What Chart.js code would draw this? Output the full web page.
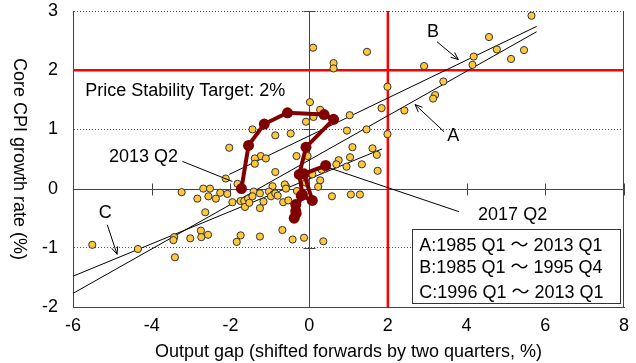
<!DOCTYPE html>
<html>
<head>
<meta charset="utf-8">
<script src="https://cdn.jsdelivr.net/npm/chart.js@4.4.0/dist/chart.umd.min.js"></script>
<style>
  body { margin: 0; background: #fff; }
</style>
</head>
<body>
<canvas id="chart" width="636" height="363"></canvas>
<script>
// --- data ---
const xTickValues = [-6, -4, -2, 0, 2, 4, 6, 8];
const yTickValues = [-2, -1, 0, 1, 2, 3];

// quarterly observations 1985 Q1 - 2013 Q1
const gapX = [5.65, 4.57, 4.77, 5.46, 5.13, 4.18, 4.15, 1.47, 0.10, 0.62, 0.62, 2.92, 1.99, 3.41, 3.20, 3.15, 2.42, 1.84, 1.03, 0.02,
  0.28, 0.11, -0.08, 0.96, 1.46, 1.99, 1.10, 1.61, 1.72, 1.04, 0.75, 0.69, 0.95, 1.34, 1.74, 0.32, 0.08, 0.28, 0.23, 0.58,
  1.06, 1.29, -1.44, -0.86, -0.47, -2.03, -1.23, -1.38, -1.38, -1.10, -0.32, -0.04, -0.86, -2.12, -1.82, -0.13, -0.31, -0.59, -0.93, -3.24,
  -2.69, -2.52, -2.26, -2.84, -2.56, -2.37, -2.08, -1.95, -1.74, -1.65, -1.63, -1.55, -1.41, -1.44, -1.52, -1.25, -1.16, -1.25, -1.02, -0.91,
  -0.97, -0.86, -0.80, -0.62, -0.59, -0.66, -0.53, -0.08, -2.64, -5.51, -4.35, -3.43, -3.45, -3.41, -3.02, -2.75, -2.74, -2.57, -1.74, -1.84,
  -1.25, -0.68, -0.42, -0.13, 0.36];
const cpiY = [2.92, 2.56, 2.35, 2.34, 2.19, 2.23, 2.09, 2.31, 2.38, 2.12, 2.03, 2.07, 1.72, 1.81, 1.58, 1.52, 1.32, 1.36, 1.24, 1.46,
  1.33, 1.21, 1.13, 0.98, 1.00, 0.92, 0.70, 0.68, 0.57, 0.53, 0.48, 0.41, 0.37, 0.41, 0.30, 0.32, 0.24, 0.14, 0.03, -0.13,
  -0.10, -0.10, 1.00, 0.90, 0.93, 0.69, 0.55, 0.51, 0.42, 0.51, 0.55, 0.55, 0.28, 0.17, 0.08, 0.14, -0.04, 0.04, 0.04, -0.06,
  0.00, 0.00, -0.07, -0.17, -0.13, -0.17, -0.09, -0.23, -0.21, -0.21, -0.31, -0.17, -0.05, -0.13, -0.24, -0.08, -0.22, -0.33, -0.05, -0.10,
  -0.13, -0.08, -0.12, 0.07, 0.00, -0.23, -0.20, 0.10, -0.40, -0.95, -1.02, -0.82, -0.87, -1.16, -0.84, -0.71, -0.82, -0.78, -0.79, -0.90,
  -0.81, -0.70, -0.86, -0.83, -0.89];

// 2013 Q2 - 2017 Q2 path
const pathX = [-1.72, -1.54, -1.14, -0.55, 0.38, 0.62, -0.08, -0.25, -0.17, -0.34, -0.34, -0.38, -0.33, -0.20, 0.08, -0.13, 0.42];
const pathY = [0.00, 0.73, 1.09, 1.28, 1.25, 1.17, 0.70, 0.24, -0.10, -0.27, -0.38, -0.50, -0.42, -0.12, -0.20, 0.25, 0.39];

// fitted lines (end points)
const lineAX = [-6, 5.78], lineAY = [-1.77, 2.65];
const lineBX = [-2.03, 5.78], lineBY = [0.24, 2.74];
const lineCX = [-6, 1.85], lineCY = [-1.48, 0.67];

const targetRate = 2;      // horizontal red line
const gapMark = 2;         // vertical red line

const legendLines = ['A:1985 Q1 ～ 2013 Q1', 'B:1985 Q1 ～ 1995 Q4', 'C:1996 Q1 ～ 2013 Q1'];

const FONT = "'Liberation Sans', Arial, 'Noto Sans CJK JP', sans-serif";

function pts(xs, ys) {
    return xs.map((v, i) => ({ x: v, y: ys[i] }));
}

function seg(ctx, x1, y1, x2, y2) {
    ctx.beginPath();
    ctx.moveTo(x1, y1);
    ctx.lineTo(x2, y2);
    ctx.stroke();
}

function arrow(ctx, x1, y1, x2, y2) {
    seg(ctx, x1, y1, x2, y2);
    const a = Math.atan2(y2 - y1, x2 - x1);
    const len = 8, spread = 0.4;
    seg(ctx, x2, y2, x2 - len * Math.cos(a - spread), y2 - len * Math.sin(a - spread));
    seg(ctx, x2, y2, x2 - len * Math.cos(a + spread), y2 - len * Math.sin(a + spread));
}

// axes crossing at the origin, frame, tick marks
const axesPlugin = {
    id: 'axesAtOrigin',
    beforeDatasetsDraw(chart) {
        const { ctx, chartArea: a, scales: { x, y } } = chart;
        ctx.save();
        ctx.strokeStyle = '#444';
        ctx.lineWidth = 1;
        seg(ctx, a.right - 0.5, a.top, a.right - 0.5, a.bottom);
        const x0 = Math.round(x.getPixelForValue(0)) + 0.5;
        const y0 = Math.round(y.getPixelForValue(0)) + 0.5;
        seg(ctx, x0, a.top, x0, a.bottom);
        seg(ctx, a.left, y0, a.right, y0);
        xTickValues.forEach(v => {
            const p = Math.round(x.getPixelForValue(v)) + 0.5;
            seg(ctx, p, y0 - 6, p, y0 + 6);
        });
        yTickValues.forEach(v => {
            const p = Math.round(y.getPixelForValue(v)) + 0.5;
            seg(ctx, x0 - 6, p, x0 + 6, p);
        });
        ctx.restore();
    }
};

// labels, arrows, legend box, axis titles
const notesPlugin = {
    id: 'notes',
    afterDatasetsDraw(chart) {
        const { ctx, chartArea: a, scales: { x, y } } = chart;
        const X = v => x.getPixelForValue(v);
        const Y = v => y.getPixelForValue(v);
        ctx.save();
        ctx.fillStyle = '#000';
        ctx.strokeStyle = '#000';
        ctx.lineWidth = 1;
        ctx.font = '18px ' + FONT;
        ctx.textBaseline = 'middle';

        ctx.textAlign = 'left';
        ctx.fillText('Price Stability Target: 2%', X(-5.69), Y(1.64));

        ctx.textAlign = 'center';
        ctx.fillText('2013 Q2', X(-4.21), Y(0.54));
        seg(ctx, X(-3.22), Y(0.46), X(-1.95), Y(0.12));
        ctx.fillText('2017 Q2', X(5.17), Y(-0.45));
        seg(ctx, X(0.51), Y(0.35), X(3.81), Y(-0.39));

        ctx.fillText('A', X(3.66), Y(0.88));
        ctx.fillText('B', X(3.15), Y(2.64));
        ctx.fillText('C', X(-5.18), Y(-0.42));
        arrow(ctx, X(3.43), Y(0.96), X(2.69), Y(1.42));
        arrow(ctx, X(3.25), Y(2.48), X(3.79), Y(2.18));
        arrow(ctx, X(-5.13), Y(-0.61), X(-4.88), Y(-1.11));

        // legend box
        const bx = Math.round(X(2.62)) + 0.5, by = Math.round(Y(-0.69)) + 0.5;
        const bw = Math.round(X(7.90) - X(2.62)), bh = Math.round(Y(-1.94) - Y(-0.69));
        ctx.fillStyle = '#fff';
        ctx.fillRect(bx, by, bw, bh);
        ctx.strokeStyle = '#333';
        ctx.strokeRect(bx, by, bw, bh);
        ctx.fillStyle = '#000';
        ctx.textAlign = 'left';
        [-0.975, -1.35, -1.76].forEach((v, i) => ctx.fillText(legendLines[i], X(2.80), Y(v)));

        // axis titles
        ctx.textAlign = 'center';
        ctx.fillText('Output gap (shifted forwards by two quarters, %)', (a.left + a.right) / 2, 352);
        ctx.translate(19, (a.top + a.bottom) / 2);
        ctx.rotate(Math.PI / 2);
        ctx.fillText('Core CPI growth rate (%)', 0, 0);
        ctx.restore();
    }
};

new Chart(document.getElementById('chart'), {
    type: 'scatter',
    data: {
        datasets: [
            {
                label: '2013 Q2 - 2017 Q2',
                data: pts(pathX, pathY),
                showLine: true,
                borderColor: '#7f0000',
                borderWidth: 4,
                backgroundColor: '#7f0000',
                pointRadius: 5.5,
                pointBorderWidth: 0,
                order: 0
            },
            {
                label: '1985 Q1 - 2013 Q1',
                data: pts(gapX, cpiY),
                backgroundColor: '#ffc83c',
                borderColor: '#333',
                borderWidth: 1,
                pointRadius: 3.6,
                order: 1
            },
            { label: 'A', data: pts(lineAX, lineAY), showLine: true, borderColor: '#000', borderWidth: 1, pointRadius: 0, order: 2 },
            { label: 'B', data: pts(lineBX, lineBY), showLine: true, borderColor: '#000', borderWidth: 1, pointRadius: 0, order: 2 },
            { label: 'C', data: pts(lineCX, lineCY), showLine: true, borderColor: '#000', borderWidth: 1, pointRadius: 0, order: 2 },
            {
                label: 'target',
                data: [{ x: -6, y: targetRate }, { x: 8, y: targetRate }],
                showLine: true, borderColor: '#f00', borderWidth: 2.5, pointRadius: 0, order: 3
            },
            {
                label: 'gap',
                data: [{ x: gapMark, y: -2 }, { x: gapMark, y: 3 }],
                showLine: true, borderColor: '#f00', borderWidth: 2.5, pointRadius: 0, order: 3
            }
        ]
    },
    options: {
        responsive: false,
        animation: false,
        devicePixelRatio: 1,
        layout: { padding: { left: 0, right: 12, top: 11, bottom: 0 } },
        plugins: { legend: { display: false }, tooltip: { enabled: false } },
        scales: {
            x: {
                min: -6, max: 8,
                afterBuildTicks: s => { s.ticks = xTickValues.map(v => ({ value: v })); },
                afterFit: s => { s.height = 56; s.paddingLeft = 0; s.paddingRight = 0; },
                ticks: { font: { size: 18, family: FONT }, color: '#000', padding: 8 },
                grid: { display: false, drawTicks: false },
                border: { display: true, color: '#444', width: 1 }
            },
            y: {
                min: -2, max: 3,
                afterBuildTicks: s => { s.ticks = yTickValues.map(v => ({ value: v })); },
                afterFit: s => { s.width = 73; s.paddingTop = 0; s.paddingBottom = 0; },
                ticks: { font: { size: 18, family: FONT }, color: '#000', padding: 15 },
                grid: {
                    drawTicks: false,
                    color: c => (c.tick && [1, -1, 3].includes(c.tick.value)) ? '#555' : 'rgba(0,0,0,0)',
                    lineWidth: 1
                },
                border: { display: true, color: '#444', width: 1, dash: [1, 2] }
            }
        }
    },
    plugins: [axesPlugin, notesPlugin]
});
</script>
</body>
</html>
